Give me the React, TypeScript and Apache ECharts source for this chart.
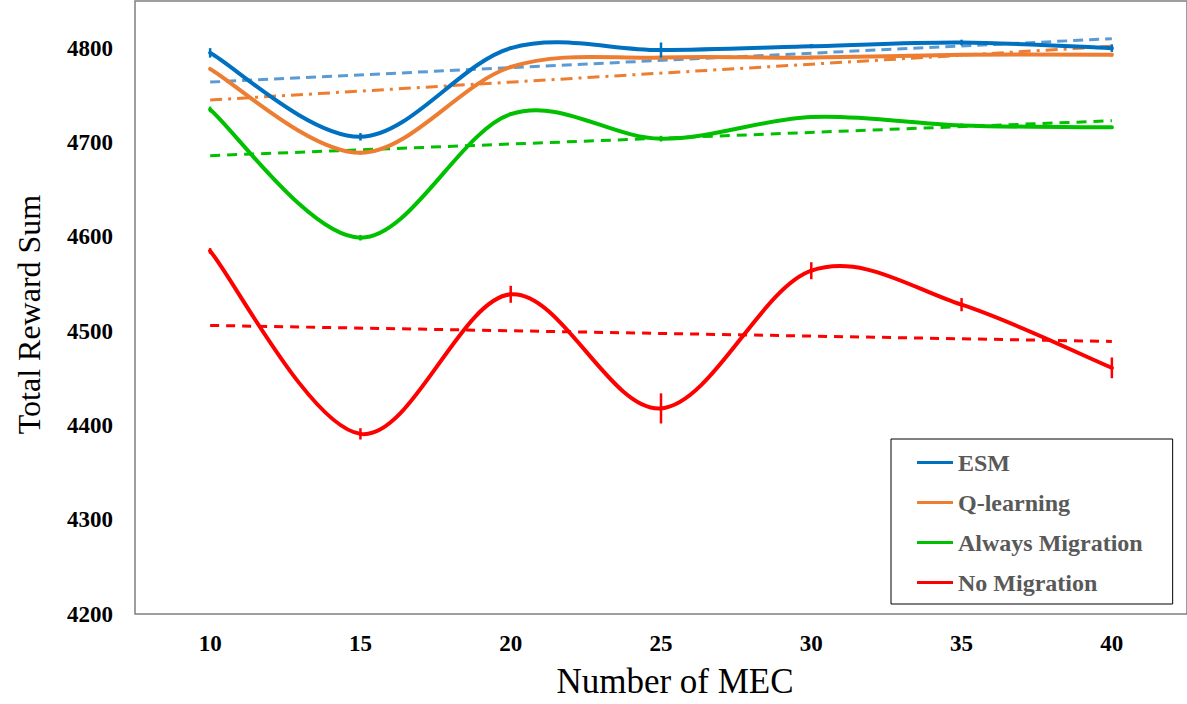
import React, { useEffect, useRef } from 'react';
import * as echarts from 'echarts';

const categories = ['10', '15', '20', '25', '30', '35', '40'];
const seriesNames = ['ESM', 'Q-learning', 'Always Migration', 'No Migration'];
const esm = [4795, 4706, 4800, 4798, 4802, 4806, 4800];
const qLearning = [4778, 4689, 4780, 4790, 4790, 4793, 4793];
const alwaysMigration = [4735, 4599, 4730, 4704, 4727, 4718, 4716];
const noMigration = [4585, 4391, 4539, 4418, 4564, 4528, 4461];

const esmErr = [5, 4, 0, 8, 2, 3, 4];
const qLearningErr = [0, 0, 0, 0, 0, 0, 2];
const alwaysMigrationErr = [3, 3, 0, 3, 0, 2, 0];
const noMigrationErr = [3, 6, 9, 16, 9, 7, 11];

// trend line values at x = 10 and x = 40
const esmTrend = [4764, 4810];
const qLearningTrend = [4745, 4802];
const alwaysMigrationTrend = [4686, 4723];
const noMigrationTrend = [4506, 4489];

const yTicks = [4200, 4300, 4400, 4500, 4600, 4700, 4800];

const colors = ['#0070C0', '#ED7D31', '#00C000', '#FF0000'];
const trendColors = ['#5B9BD5', '#ED7D31', '#00C000', '#FF0000'];
const trendDash = [[10, 6], [12, 6, 3, 6], [10, 7], [9, 7]];
const FONT = '"Liberation Serif", "Times New Roman", serif';

export default function App() {
  const ref = useRef<HTMLDivElement>(null);
  useEffect(() => {
    if (!ref.current) return;
    const chart = echarts.init(ref.current, null, { renderer: 'svg', width: 1187, height: 704 });
    const values = [esm, qLearning, alwaysMigration, noMigration];
    const errs = [esmErr, qLearningErr, alwaysMigrationErr, noMigrationErr];
    const trends = [esmTrend, qLearningTrend, alwaysMigrationTrend, noMigrationTrend];

    const series: any[] = [];
    trends.forEach((t, i) => {
      const data: (number | null)[] = categories.map(() => null);
      data[0] = t[0];
      data[categories.length - 1] = t[1];
      series.push({
        name: seriesNames[i] + ' trend',
        type: 'line',
        data,
        connectNulls: true,
        symbol: 'none',
        lineStyle: { color: trendColors[i], width: 3, type: trendDash[i] },
        z: 2,
      });
    });
    values.forEach((v, i) => {
      const n = v.length;
      // legend entry carrier (empty line series)
      series.push({
        name: seriesNames[i],
        type: 'line',
        data: [],
        symbol: 'none',
        lineStyle: { color: colors[i], width: 4 },
        itemStyle: { color: colors[i] },
      });
      // smooth curve (Catmull-Rom segments, like the spreadsheet smoothing)
      series.push({
        name: seriesNames[i] + ' curve',
        type: 'custom',
        data: v.map((val, j) => [j, val]),
        encode: { x: 0, y: 1 },
        z: 3,
        renderItem: (params: any, api: any) => {
          const j = params.dataIndex;
          if (j >= n - 1) return null;
          const pt = (k: number) => {
            const kk = Math.max(0, Math.min(n - 1, k));
            return api.coord([kk, v[kk]]);
          };
          const p0 = pt(j - 1);
          const p1 = pt(j);
          const p2 = pt(j + 1);
          const p3 = pt(j + 2);
          return {
            type: 'bezierCurve',
            shape: {
              x1: p1[0],
              y1: p1[1],
              x2: p2[0],
              y2: p2[1],
              cpx1: p1[0] + (p2[0] - p0[0]) / 6,
              cpy1: p1[1] + (p2[1] - p0[1]) / 6,
              cpx2: p2[0] - (p3[0] - p1[0]) / 6,
              cpy2: p2[1] - (p3[1] - p1[1]) / 6,
            },
            style: { stroke: colors[i], lineWidth: 4, fill: null, lineCap: 'round' },
          };
        },
      });
      series.push({
        name: seriesNames[i] + ' error',
        type: 'custom',
        data: v.map((val, j) => [j, val, errs[i][j]]),
        encode: { x: 0, y: 1 },
        z: 4,
        renderItem: (params: any, api: any) => {
          const e = api.value(2);
          if (!e) return null;
          const x = api.value(0);
          const y = api.value(1);
          const p1 = api.coord([x, y - e]);
          const p2 = api.coord([x, y + e]);
          return {
            type: 'line',
            shape: { x1: p1[0], y1: p1[1], x2: p2[0], y2: p2[1] },
            style: { stroke: colors[i], lineWidth: 2.5 },
          };
        },
      });
    });

    chart.setOption({
      animation: false,
      backgroundColor: '#ffffff',
      grid: {
        left: 135,
        top: 1,
        right: -1,
        height: 620,
        show: true,
        borderColor: '#7f7f7f',
        borderWidth: 1.5,
        containLabel: false,
      },
      legend: {
        data: seriesNames,
        orient: 'vertical',
        left: 891,
        top: 439,
        selectedMode: false,
        icon: 'rect',
        itemWidth: 36,
        itemHeight: 3,
        itemGap: 15,
        padding: [11, 30, 9, 26],
        borderColor: '#000000',
        borderWidth: 1,
        backgroundColor: '#ffffff',
        textStyle: {
          fontFamily: FONT,
          fontWeight: 'bold',
          fontSize: 24,
          color: '#595959',
          lineHeight: 25,
        },
      },
      xAxis: {
        type: 'category',
        data: categories,
        boundaryGap: true,
        name: 'Number of MEC',
        nameLocation: 'middle',
        nameGap: 50,
        nameTextStyle: { fontFamily: FONT, fontSize: 35, color: '#000', padding: [0, 0, 0, 28] },
        axisLine: { show: false },
        axisTick: { show: false },
        axisLabel: {
          margin: 18,
          fontFamily: FONT,
          fontWeight: 'bold',
          fontSize: 23,
          color: '#000',
        },
        splitLine: { show: false },
      },
      yAxis: {
        type: 'value',
        min: yTicks[0],
        max: 4850,
        interval: 100,
        name: 'Total Reward Sum',
        nameLocation: 'middle',
        nameRotate: 90,
        nameGap: 90,
        nameTextStyle: { fontFamily: FONT, fontSize: 32, color: '#000', padding: [0, 14, 0, 0] },
        axisLine: { show: false },
        axisTick: { show: false },
        splitLine: { show: false },
        axisLabel: {
          margin: 22,
          fontFamily: FONT,
          fontWeight: 'bold',
          fontSize: 23,
          color: '#000',
          formatter: (v: number) => (yTicks.includes(v) ? String(v) : ''),
        },
      },
      series,
    });
    return () => chart.dispose();
  }, []);
  return (
    <div
      ref={ref}
      style={{ position: 'fixed', left: 0, top: 0, width: 1187, height: 704, background: '#fff' }}
    />
  );
}
